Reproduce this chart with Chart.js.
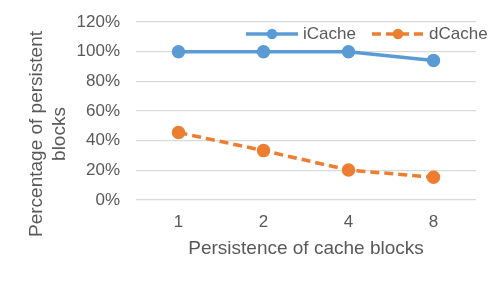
<!DOCTYPE html>
<html>
<head>
<meta charset="utf-8">
<script src="https://cdn.jsdelivr.net/npm/chart.js@4.4.0/dist/chart.umd.min.js"></script>
<style>
html, body { margin: 0; padding: 0; background: #fff; }
#wrap { width: 498px; height: 284px; }
</style>
</head>
<body>
<div id="wrap"><canvas id="chart" width="498" height="284"></canvas></div>
<script>
// Data
const categories = ['1', '2', '4', '8'];
const iCacheValues = [100, 100, 100, 94];
const dCacheValues = [45.5, 33.3, 20.2, 15.3];
const seriesNames = ['iCache', 'dCache'];
const yTitleLines = ['Percentage of persistent', 'blocks'];
const xTitle = 'Persistence of cache blocks';

const FONT = "'Liberation Sans', Arial, sans-serif";
const TEXT = '#595959';
const BLUE = '#5B9BD5';
const ORANGE = '#ED7D31';

// y axis title, drawn as two rotated lines like the original
const yTitlePlugin = {
    id: 'yTitle',
    afterDraw(chart) {
        const ctx = chart.ctx;
        const cy = (chart.chartArea.top + chart.chartArea.bottom) / 2 + 23;
        ctx.save();
        ctx.fillStyle = TEXT;
        ctx.font = '19px ' + FONT;
        ctx.textAlign = 'center';
        ctx.textBaseline = 'middle';
        yTitleLines.forEach((line, i) => {
            ctx.save();
            ctx.translate(37 + i * 23, cy);
            ctx.rotate(-Math.PI / 2);
            ctx.fillText(line, 0, 0);
            ctx.restore();
        });
        ctx.restore();
    }
};

// legend inside the plot area, line + marker + label
const lineLegendPlugin = {
    id: 'lineLegend',
    afterDraw(chart) {
        const ctx = chart.ctx;
        const y = 34;
        const starts = [246, 372];
        ctx.save();
        ctx.font = '17px ' + FONT;
        ctx.textBaseline = 'middle';
        chart.data.datasets.forEach((ds, i) => {
            const x0 = starts[i];
            ctx.strokeStyle = ds.borderColor;
            ctx.lineWidth = 3.5;
            ctx.setLineDash(ds.borderDash || []);
            ctx.beginPath();
            ctx.moveTo(x0, y);
            ctx.lineTo(x0 + 52, y);
            ctx.stroke();
            ctx.setLineDash([]);
            ctx.fillStyle = ds.pointBackgroundColor;
            ctx.beginPath();
            ctx.arc(x0 + 26, y, 5.2, 0, Math.PI * 2);
            ctx.fill();
            ctx.fillStyle = TEXT;
            ctx.fillText(ds.label, x0 + 57, y);
        });
        ctx.restore();
    }
};

const ctx = document.getElementById('chart').getContext('2d');
new Chart(ctx, {
    type: 'line',
    data: {
        labels: categories,
        datasets: [{
            label: seriesNames[0],
            data: iCacheValues,
            borderColor: BLUE,
            backgroundColor: BLUE,
            pointBackgroundColor: BLUE,
            pointBorderColor: BLUE,
            borderWidth: 3.5,
            pointRadius: 5,
            tension: 0
        }, {
            label: seriesNames[1],
            data: dCacheValues,
            borderColor: ORANGE,
            backgroundColor: ORANGE,
            pointBackgroundColor: ORANGE,
            pointBorderColor: ORANGE,
            borderWidth: 3.5,
            borderDash: [9, 5],
            pointRadius: 5,
            tension: 0
        }]
    },
    options: {
        responsive: false,
        animation: false,
        devicePixelRatio: 1,
        layout: {
            padding: { left: 0, right: 22, top: 22, bottom: 24 }
        },
        plugins: {
            legend: { display: false },
            tooltip: { enabled: false }
        },
        scales: {
            x: {
                offset: true,
                grid: { display: false, drawTicks: false },
                border: { display: false },
                ticks: {
                    color: TEXT,
                    font: { family: FONT, size: 17 },
                    padding: 12
                },
                title: {
                    display: true,
                    text: xTitle,
                    color: TEXT,
                    font: { family: FONT, size: 19 },
                    padding: { top: 0, bottom: 0 }
                },
                afterFit(scale) { scale.height = 60; }
            },
            y: {
                min: 0,
                max: 120,
                grid: { color: '#D9D9D9', lineWidth: 1.3, drawTicks: false },
                border: { display: false },
                ticks: {
                    stepSize: 20,
                    color: TEXT,
                    font: { family: FONT, size: 17 },
                    padding: 16,
                    callback: v => v + '%'
                },
                afterFit(scale) {
                    scale.width = 136;
                    scale.paddingTop = 0;
                    scale.paddingBottom = 0;
                }
            }
        }
    },
    plugins: [yTitlePlugin, lineLegendPlugin]
});
</script>
</body>
</html>
